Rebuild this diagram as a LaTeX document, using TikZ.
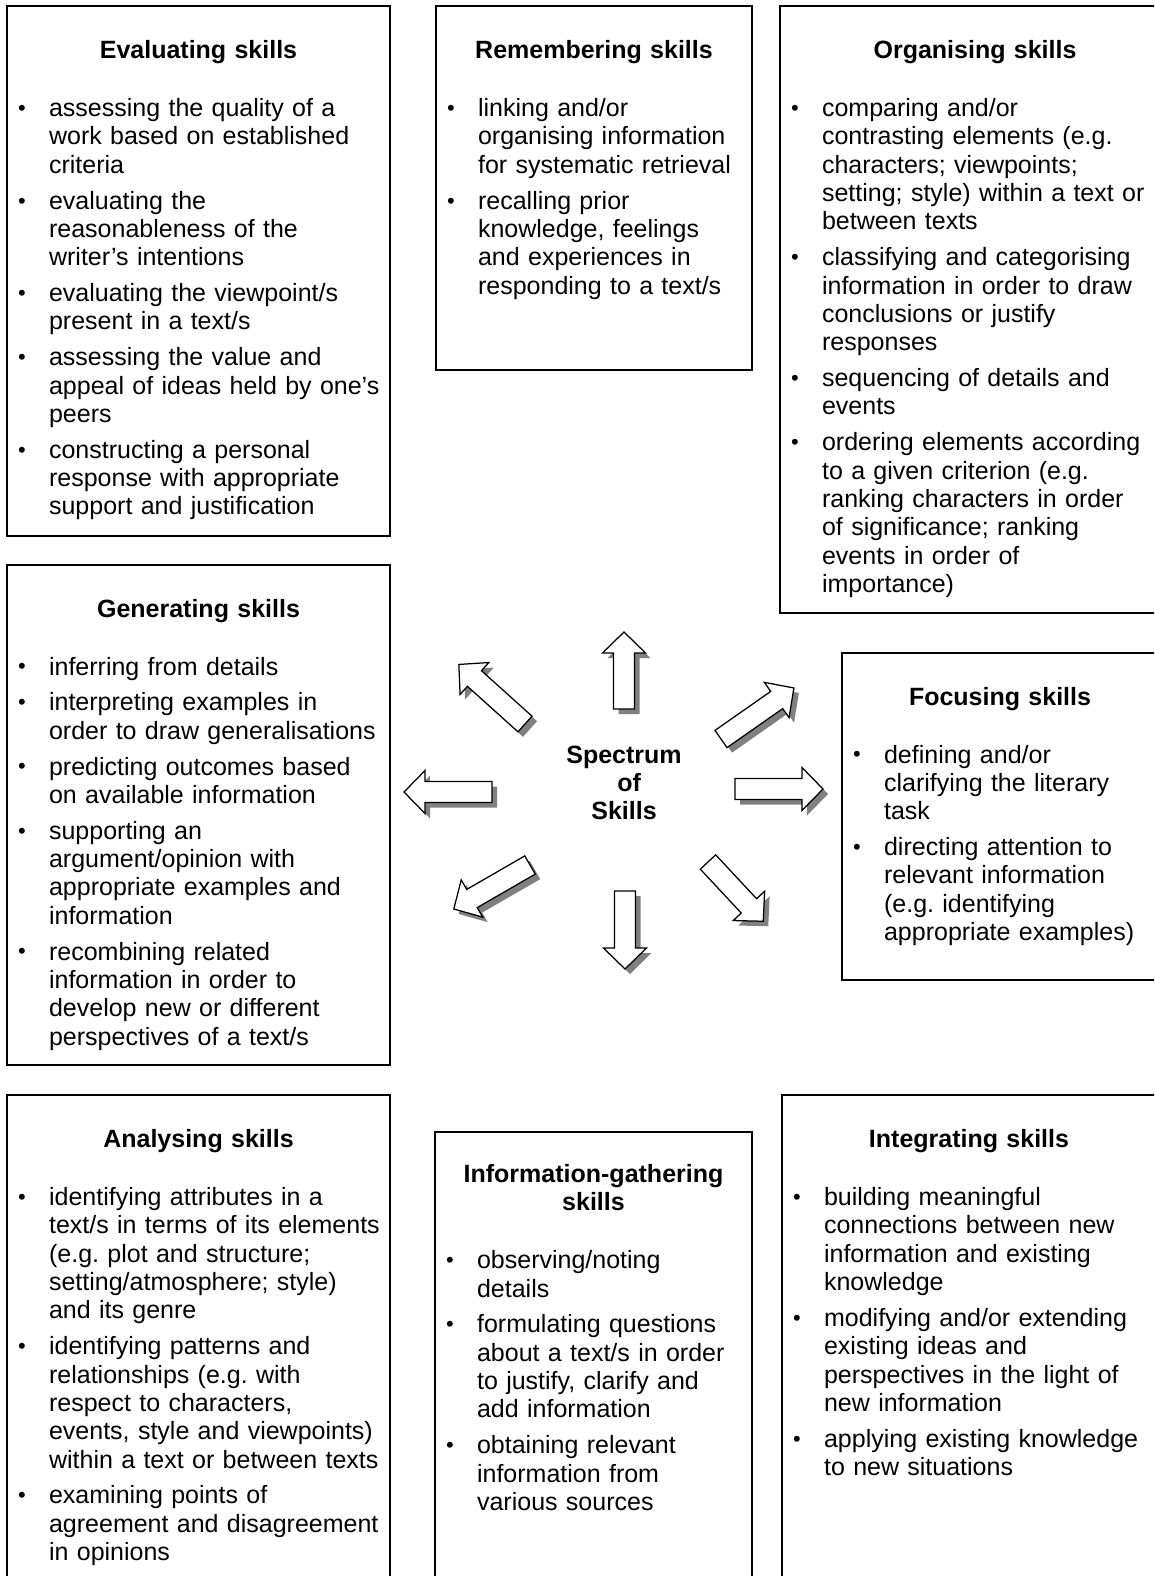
\documentclass[tikz,border=0pt]{standalone}
\usepackage{fontspec}
\setmainfont{Liberation Sans}
\newcommand{\pxsize}{0.48pt}
\newcommand{\skilltitle}[1]{{\centering\bfseries\rule{0pt}{10pt}#1\par}\vspace{10.6pt}}
\newcommand{\skillpoint}[1]{\ifvmode\vspace{3.6pt}\fi%
  \hangindent=20.2pt\hangafter=1\rightskip=-30pt plus 1fil%
  \noindent\makebox[20.2pt][l]{\hspace{5.3pt}\raisebox{0.5pt}{\fontsize{10.5}{10.5}\selectfont\textbullet}}#1\par}
\begin{document}
\begin{tikzpicture}[x=\pxsize, y=-\pxsize,
  skillbox/.style={draw, line width=0.75pt, inner sep=0pt, outer sep=0pt, anchor=north west},
  skilltext/.style={inner sep=0pt, outer sep=0pt, anchor=north west, align=left,
    font=\fontsize{12}{13.6}\selectfont\frenchspacing},
  skillarrow/.style={draw, fill=white, line width=0.6pt, line join=miter},
  arrowshadow/.style={fill=black!50}]
	\useasboundingbox (0,0) rectangle (1154,1576);
	\clip (0,0) rectangle (1154,1576);
	
	% top row
	\node[skillbox, minimum width=383*\pxsize, minimum height=530*\pxsize] (eval) at (7,6) {};
	\node[skilltext, text width=383*\pxsize] (evaltext) at ([yshift=-15.3pt]eval.north west) {%
		\skilltitle{Evaluating skills}
		\skillpoint{assessing the quality of a\newline work based on established\newline criteria}
		\skillpoint{evaluating the\newline reasonableness of the\newline writer’s intentions}
		\skillpoint{evaluating the viewpoint/s\newline present in a text/s}
		\skillpoint{assessing the value and\newline appeal of ideas held by one’s\newline peers}
		\skillpoint{constructing a personal\newline response with appropriate\newline support and justification}};
	
	\node[skillbox, minimum width=316*\pxsize, minimum height=364*\pxsize] (rem) at (436,6) {};
	\node[skilltext, text width=316*\pxsize] (remtext) at ([yshift=-15.3pt]rem.north west) {%
		\skilltitle{Remembering skills}
		\skillpoint{linking and/or\newline organising information\newline for systematic retrieval}
		\skillpoint{recalling prior\newline knowledge, feelings\newline and experiences in\newline responding to a text/s}};
	
	\node[skillbox, minimum width=390*\pxsize, minimum height=607*\pxsize] (org) at (780,6) {};
	\node[skilltext, text width=390*\pxsize] (orgtext) at ([yshift=-15.3pt]org.north west) {%
		\skilltitle{Organising skills}
		\skillpoint{comparing and/or\newline contrasting elements (e.g.\newline characters; viewpoints;\newline setting; style) within a text or\newline between texts}
		\skillpoint{classifying and categorising\newline information in order to draw\newline conclusions or justify\newline responses}
		\skillpoint{sequencing of details and\newline events}
		\skillpoint{ordering elements according\newline to a given criterion (e.g.\newline ranking characters in order\newline of significance; ranking\newline events in order of\newline importance)}};
	
	% middle row
	\node[skillbox, minimum width=383*\pxsize, minimum height=500*\pxsize] (gen) at (7,565) {};
	\node[skilltext, text width=383*\pxsize] (gentext) at ([yshift=-15pt]gen.north west) {%
		\skilltitle{Generating skills}
		\skillpoint{inferring from details}
		\skillpoint{interpreting examples in\newline order to draw generalisations}
		\skillpoint{predicting outcomes based\newline on available information}
		\skillpoint{supporting an\newline argument/opinion with\newline appropriate examples and\newline information}
		\skillpoint{recombining related\newline information in order to\newline develop new or different\newline perspectives of a text/s}};
	
	\node[skillbox, minimum width=316*\pxsize, minimum height=327*\pxsize] (foc) at (842,653) {};
	\node[skilltext, text width=316*\pxsize] (foctext) at ([yshift=-15pt]foc.north west) {%
		\skilltitle{Focusing skills}
		\skillpoint{defining and/or\newline clarifying the literary\newline task}
		\skillpoint{directing attention to\newline relevant information\newline (e.g. identifying\newline appropriate examples)}};
	
	\node[font=\fontsize{12}{13.6}\selectfont\bfseries, align=center, anchor=north, inner sep=0pt] (spectrum)
		at (624,742) {\rule{0pt}{10pt}Spectrum\\\hspace*{5pt}of\\Skills};
	
	% arrows round the centre: tail x/tail y/angle/length
	\foreach \tx/\ty/\ang/\len in {624/709/90/77, 625/891/-90/78, 492/792/180/88, 735/789/0/88,
		525/724/138/89, 721/739/35/89, 530/865/210/88, 708/862/-47/81}{
		\fill[arrowshadow, shift={(\tx+5,\ty+5)}, rotate=\ang]
			(0,-10.5) -- (\len-21,-10.5) -- (\len-21,-21.5) -- (\len,0) -- (\len-21,21.5) -- (\len-21,10.5) -- (0,10.5) -- cycle;
		\draw[skillarrow, shift={(\tx,\ty)}, rotate=\ang]
			(0,-10.5) -- (\len-21,-10.5) -- (\len-21,-21.5) -- (\len,0) -- (\len-21,21.5) -- (\len-21,10.5) -- (0,10.5) -- cycle;
	}
	
	% bottom row
	\node[skillbox, minimum width=383*\pxsize, minimum height=510*\pxsize] (ana) at (7,1095) {};
	\node[skilltext, text width=383*\pxsize] (anatext) at ([yshift=-15.3pt]ana.north west) {%
		\skilltitle{Analysing skills}
		\skillpoint{identifying attributes in a\newline text/s in terms of its elements\newline (e.g. plot and structure;\newline setting/atmosphere; style)\newline and its genre}
		\skillpoint{identifying patterns and\newline relationships (e.g. with\newline respect to characters,\newline events, style and viewpoints)\newline within a text or between texts}
		\skillpoint{examining points of\newline agreement and disagreement\newline in opinions}};
	
	\node[skillbox, minimum width=317*\pxsize, minimum height=470*\pxsize] (info) at (435,1132) {};
	\node[skilltext, text width=317*\pxsize] (infotext) at ([yshift=-14.2pt]info.north west) {%
		\skilltitle{Information-gathering\\skills}
		\skillpoint{observing/noting\newline details}
		\skillpoint{formulating questions\newline about a text/s in order\newline to justify, clarify and\newline add information}
		\skillpoint{obtaining relevant\newline information from\newline various sources}};
	
	\node[skillbox, minimum width=374*\pxsize, minimum height=510*\pxsize] (integ) at (782,1095) {};
	\node[skilltext, text width=374*\pxsize] (integtext) at ([yshift=-15.3pt]integ.north west) {%
		\skilltitle{Integrating skills}
		\skillpoint{building meaningful\newline connections between new\newline information and existing\newline knowledge}
		\skillpoint{modifying and/or extending\newline existing ideas and\newline perspectives in the light of\newline new information}
		\skillpoint{applying existing knowledge\newline to new situations}};
	
\end{tikzpicture}
\end{document}
